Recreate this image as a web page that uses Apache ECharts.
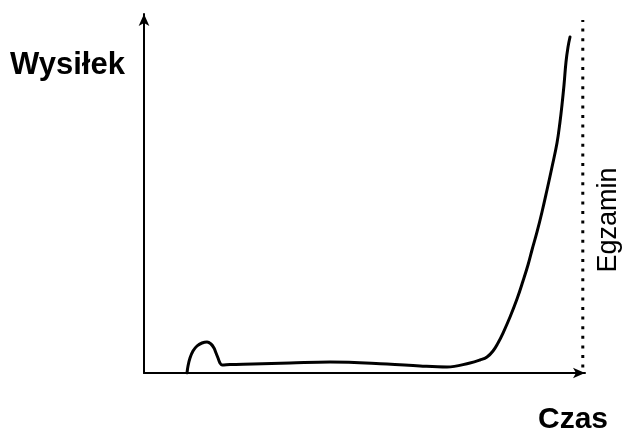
<!DOCTYPE html>
<html>
<head>
<meta charset="utf-8">
<script src="https://cdn.jsdelivr.net/npm/echarts@6/dist/echarts.min.js"></script>
<style>html,body{margin:0;padding:0;background:#fff}#c{width:623px;height:433px}</style>
</head>
<body>
<div id="c"></div>
<script>
// time (0-100) and effort (0-100)
var timeVals = [9.75, 9.98, 10.43, 11.11, 12.02, 13.15, 14.29, 15.19, 15.87, 16.33, 16.78, 17.23, 17.69, 19.50, 24.72, 33.11, 42.18, 55.10, 62.59, 68.71, 73.92, 76.19, 77.78, 79.14, 80.27, 81.41, 83.00, 84.58, 85.94, 87.07, 87.98, 89.12, 90.25, 91.38, 92.52, 93.65, 94.33, 94.78, 95.24, 95.69, 96.15, 96.60];
var effortVals = [0, 1.95, 4.18, 6.13, 7.52, 8.36, 8.64, 8.08, 6.96, 5.57, 4.18, 2.79, 2.23, 2.37, 2.51, 2.79, 3.06, 2.51, 1.95, 1.67, 2.79, 3.62, 4.46, 6.13, 8.36, 11.14, 15.60, 20.61, 25.63, 30.08, 34.26, 39.28, 44.85, 50.97, 57.38, 64.07, 69.92, 74.65, 80.22, 86.63, 90.81, 93.59];
var examTime = [99.5, 99.5];
var examRange = [1.5, 98.3];
var yLabel = 'Wysiłek';
var xLabel = 'Czas';
var examLabel = 'Egzamin';

var curve = timeVals.map(function (t, i) { return [t, effortVals[i]]; });
var examLine = examTime.map(function (t, i) { return [t, examRange[i]]; });

var font = '"Liberation Sans", Arial, sans-serif';
var chart = echarts.init(document.getElementById('c'));
var axisCommon = {
  type: 'value', min: 0, max: 100,
  axisLine: { show: true, symbol: ['none', 'arrow'], symbolSize: [8, 12], lineStyle: { color: '#000', width: 2 } },
  axisTick: { show: false }, axisLabel: { show: false }, splitLine: { show: false }
};
chart.setOption({
  animation: false,
  backgroundColor: '#fff',
  grid: { left: 144, right: 38, top: 14, bottom: 60 },
  xAxis: axisCommon,
  yAxis: axisCommon,
  series: [
    { type: 'line', data: curve, smooth: 0.4, symbol: 'none',
      lineStyle: { color: '#000', width: 3, cap: 'round', join: 'round' } },
    { type: 'line', data: examLine, symbol: 'none',
      lineStyle: { color: '#000', width: 3, type: [3, 6.6], cap: 'butt' } }
  ],
  graphic: [
    { type: 'text', left: 10, top: 50, style: { text: yLabel, font: 'bold 31px ' + font, fill: '#000' } },
    { type: 'text', left: 538, top: 405, style: { text: xLabel, font: 'bold 30px ' + font, fill: '#000' } },
    { type: 'text', x: 609, y: 220, rotation: Math.PI / 2,
      style: { text: examLabel, font: '27px ' + font, fill: '#000', align: 'center', verticalAlign: 'middle' } }
  ]
});
</script>
</body>
</html>
